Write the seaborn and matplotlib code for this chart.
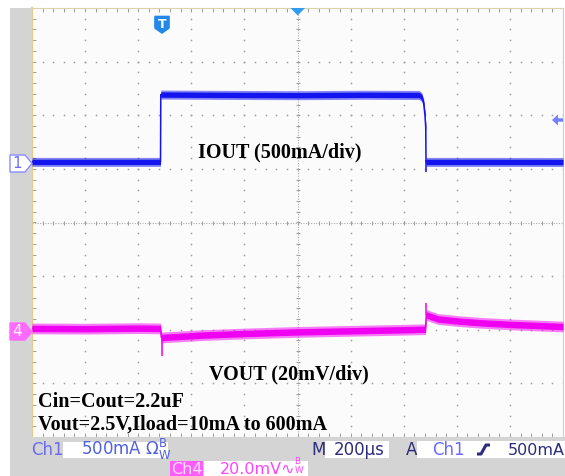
import numpy as np
import pandas as pd
import matplotlib
matplotlib.use("Agg")
import matplotlib.pyplot as plt
import seaborn as sns
from matplotlib.patches import Rectangle, Polygon
from matplotlib.lines import Line2D

# ---------------- data ----------------
# time base: 200 us/div, 10 divisions -> 0..2000 us
# Ch1 : load current IOUT in mA (500 mA/div)
t_iout = [0, 250, 484, 485, 700, 1000, 1250, 1458, 1468, 1475, 1480, 1483, 1484, 1750, 2000]
iout = [10, 10, 10, 638, 635, 632, 636, 634, 615, 560, 450, 330, 10, 10, 9]
iout_spike_t = [1484.5]
iout_spike_from = [30]
iout_spike_to = [-85]

# Ch4 : output voltage deviation VOUT in mV (20 mV/div, AC coupled)
t_vout = [0, 200, 400, 484, 487, 500, 640, 800, 1000, 1200, 1400, 1482, 1485,
          1500, 1530, 1610, 1690, 1800, 2000]
vout = [1.5, 1.4, 1.6, 1.5, -1.9, -1.8, -1.0, -0.4, 0.2, 0.6, 1.0, 1.2, 6.6,
        6.0, 5.0, 4.2, 3.6, 3.0, 2.2]
vout_spike_t = [488, 1484]
vout_spike_from = [-2.0, 6.5]
vout_spike_to = [-8.8, 10.9]

# noise band half widths
IOUT_NOISE = 42    # mA
VOUT_NOISE = 2.0   # mV

# channel settings
CH1_SCALE, CH1_POS = 500, 1.11   # mA/div, ground position (div)
CH4_SCALE, CH4_POS = 20, -2.05   # mV/div, ground position (div)
TIME_SPAN = 2000                 # us (10 div x 200 us)

labels_main = ["IOUT (500mA/div)", "VOUT (20mV/div)", "Cin=Cout=2.2uF",
               "Vout=2.5V,Iload=10mA to 600mA"]

df_i = pd.DataFrame({"t": t_iout, "v": iout})
df_v = pd.DataFrame({"t": t_vout, "v": vout})

# ---------------- figure ----------------
W, H = 565, 476
fig = plt.figure(figsize=(W / 100, H / 100), dpi=100)
fig.patch.set_facecolor("white")


def fx(x):
    return x / W


def fy(y):
    return 1 - y / H


def rect(x0, y0, x1, y1, color, zorder=1):
    fig.add_artist(Rectangle((fx(x0), fy(y1)), (x1 - x0) / W, (y1 - y0) / H,
                             transform=fig.transFigure, facecolor=color,
                             edgecolor="none", zorder=zorder))


def poly(pts, fc, ec=None, lw=0.0, zorder=2):
    fig.add_artist(Polygon([(fx(x), fy(y)) for x, y in pts], closed=True,
                           transform=fig.transFigure, fc=fc, ec=ec or fc,
                           lw=lw, zorder=zorder, joinstyle="round"))


def txt(x, y, s, **kw):
    kw.setdefault("va", "baseline")
    kw.setdefault("ha", "left")
    fig.text(fx(x), fy(y), s, **kw)


GRAY = "#d4d4d4"
rect(10, 8, 32, 476, GRAY)
rect(10, 437, 565, 476, GRAY)

# graticule axes (divisions)
ax = fig.add_axes([fx(32), fy(437), (563 - 32) / W, (437 - 8) / H])
ax.set_facecolor("#fbfbfb")
ax.set_xlim(0, TIME_SPAN)
ax.set_ylim(-4, 4)
ax.set_xticks(np.arange(0, TIME_SPAN + 1, 40))
ax.set_yticks(np.arange(-4, 4.01, 0.2))
ax.tick_params(which="both", direction="in", length=3, width=0.7,
               color="#a0a0a0", top=True, right=True,
               labelleft=False, labelbottom=False)
for side, sp in ax.spines.items():
    sp.set_color("#cfcfcf")
    sp.set_linewidth(0.8)
ax.spines["left"].set_color("#e4cc88")
ax.spines["left"].set_linewidth(1.6)
ax.spines["top"].set_color("#ddd3a8")

dot_c = "#a0a0a0"
yy = np.arange(-4, 4.01, 0.2)
xx = np.arange(0, TIME_SPAN + 1, 40)
for k in range(1, 10):
    if k == 5:
        continue
    ax.plot(np.full_like(yy, k * 200.0), yy, ls="none", marker="s",
            ms=1.1, mew=0, color=dot_c, zorder=1)
for j in [-3, -2, -1, 1, 2, 3]:
    ax.plot(xx, np.full_like(xx, j, dtype=float), ls="none", marker="s",
            ms=1.1, mew=0, color=dot_c, zorder=1)
# centre lines with minor ticks
ax.axvline(1000, ls=(0, (1, 1.3)), lw=0.8, color="#b0b0b0", zorder=1)
ax.axhline(0, ls=(0, (1, 1.3)), lw=0.8, color="#b0b0b0", zorder=1)
ax.plot(np.full_like(yy, 1000.0), yy, ls="none", marker="_", ms=3.5,
        mew=0.8, color="#a0a0a0", zorder=1)
ax.plot(xx, np.zeros_like(xx, dtype=float), ls="none", marker="|", ms=3.5,
        mew=0.8, color="#a0a0a0", zorder=1)

# ---- Ch1 trace ----
BLUE = "#1414ee"
ax1 = ax.twinx()
ax1.set_ylim((-4 - CH1_POS) * CH1_SCALE, (4 - CH1_POS) * CH1_SCALE)
ax1.set_axis_off()
ia = np.array(iout, dtype=float)
ax1.fill_between(t_iout, ia - IOUT_NOISE, ia + IOUT_NOISE, color=BLUE,
                 alpha=0.5, lw=0)
ax1.fill_between(t_iout, ia - IOUT_NOISE * 0.6, ia + IOUT_NOISE * 0.6,
                 color=BLUE, alpha=1.0, lw=0)
sns.lineplot(data=df_i, x="t", y="v", ax=ax1, color=BLUE, lw=1.1,
             sort=False, estimator=None)
ax1.vlines(iout_spike_t, iout_spike_from, iout_spike_to, color=BLUE, lw=1.1)
ax1.set_xlim(0, TIME_SPAN)

# ---- Ch4 trace ----
MAG = "#f000f0"
ax2 = ax.twinx()
ax2.set_ylim((-4 - CH4_POS) * CH4_SCALE, (4 - CH4_POS) * CH4_SCALE)
ax2.set_axis_off()
va = np.array(vout, dtype=float)
ax2.fill_between(t_vout, va - VOUT_NOISE, va + VOUT_NOISE, color=MAG,
                 alpha=0.5, lw=0)
ax2.fill_between(t_vout, va - VOUT_NOISE * 0.6, va + VOUT_NOISE * 0.6,
                 color=MAG, alpha=1.0, lw=0)
sns.lineplot(data=df_v, x="t", y="v", ax=ax2, color=MAG, lw=1.1,
             sort=False, estimator=None)
ax2.vlines(vout_spike_t, vout_spike_from, vout_spike_to, color=MAG, lw=1.1)
ax2.set_xlim(0, TIME_SPAN)

# ---------------- annotations ----------------
serif = dict(family="Liberation Serif", weight="bold", size=14.5, color="black")
txt(198, 157, labels_main[0], **serif)
txt(209, 379, labels_main[1], **serif)
txt(38, 407, labels_main[2], **serif)
txt(38, 430, labels_main[3], **serif)

# channel markers
poly([(10, 155), (25, 155), (32, 163.5), (25, 172), (10, 172)], "white",
     ec="#8c8cff", lw=1.0)
txt(17.5, 164, "1", family="DejaVu Sans", size=11, color="#6f6ff5",
    ha="center", va="center")
poly([(10, 323), (25, 323), (32, 332), (25, 340), (10, 340)], "#ff6aff",
     ec="#ff6aff", lw=1.0)
txt(17.5, 332, "4", family="DejaVu Sans", size=11, color="white",
    ha="center", va="center")

# trigger marker "T"
poly([(155, 16.5), (169, 16.5), (169, 28), (162, 33), (155, 28)], "#2388ea",
     ec="#2388ea", lw=1.2, zorder=3)
txt(162, 24, "T", family="DejaVu Sans", weight="bold", size=9, color="white",
    ha="center", va="center")
# trigger position triangle
poly([(290.5, 8), (305, 8), (297.7, 15.5)], "#2f9cee", zorder=3)
# trigger level arrow
poly([(552, 120), (558, 114.5), (558, 118.3), (563, 118.3), (563, 121.7),
      (558, 121.7), (558, 125.5)], "#7080ff", zorder=3)

# ---------------- status bar ----------------
sans = dict(family=["DejaVu Sans", "Noto Sans"], size=12)
rect(63, 442, 168, 458, "white", zorder=2)
rect(325, 441, 389, 458, "white", zorder=2)
rect(417, 441, 565, 458, "white", zorder=2)
rect(170, 461, 203, 476, "#ff5cff", zorder=2)
rect(204, 461, 308, 476, "white", zorder=2)

txt(31, 455, "Ch1", color="#6c6cf0", **sans)
txt(81, 455, r"500mA Ω$^{\mathrm{B}}_{\mathrm{W}}$", color="#5060e0", **sans)

txt(311, 455, "M", color="#2c2c7c", **sans)
txt(334, 455, "200µs", color="#2c2c7c", **sans)
txt(406, 455, "A", color="#2c2c7c", **sans)
txt(432, 455, "Ch1", color="#6a6aff", **sans)
fig.add_artist(Line2D([fx(477), fx(481), fx(486), fx(490)],
                      [fy(454), fy(454), fy(445), fy(445)],
                      transform=fig.transFigure, color="#2c2c7c", lw=2.2,
                      solid_capstyle="butt", zorder=4))
txt(508, 455, "500mA", color="#2c2c7c", family=["DejaVu Sans", "Noto Sans"],
    size=11.5)

small = dict(family=["DejaVu Sans", "Noto Sans"], size=11.5)
txt(171, 473.5, "Ch4", color="#ffe0ff", **small)
txt(220, 473.5, "20.0mV∿", color="#ff44ff", **small)
txt(294, 471, r"$^{\mathrm{B}}_{\mathrm{W}}$", color="#ff44ff",
    family=["DejaVu Sans", "Noto Sans"], size=9)

fig.savefig("out.png", dpi=100, facecolor=fig.get_facecolor())
